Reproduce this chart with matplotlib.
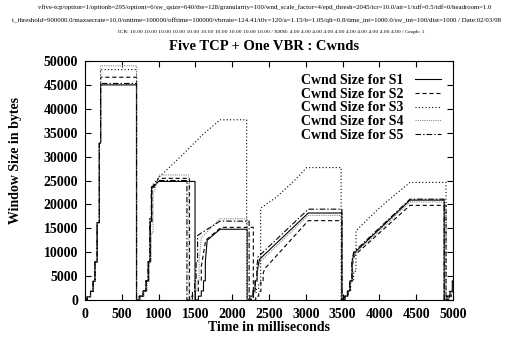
import matplotlib
matplotlib.use("Agg")
import matplotlib.pyplot as plt

plt.rcParams['font.family'] = ['Liberation Serif', 'DejaVu Serif']
plt.rcParams['lines.scale_dashes'] = False

# header lines printed by the simulator
hdr1 = "vfive-tcp/option=1/optionb=295/optiont=6/sw_qsize=640/tbe=128/granularity=100/wnd_scale_factor=4/epd_thresh=2045/icr=10.0/air=1/xdf=0.5/tdf=0/headroom=1.0"
hdr2 = "t_threshold=900000.0/maxsecrate=10.0/ontime=100000/offtime=100000/vbrrate=124.41/t0v=120/a=1.15/b=1.05/qlt=0.8/time_int=1000.0/sw_int=100/dist=1000 / Date:02/03/98"
hdr3 = "ICR: 10.00 10.00 10.00 10.00 10.00 10.00 10.00 10.00 10.00 10.00 / XRM: 4.00 4.00 4.00 4.00 4.00 4.00 4.00 4.00 4.00 4.00 / Graph: 1"
title = "Five TCP + One VBR : Cwnds"

labels = ["Cwnd Size for S1", "Cwnd Size for S2", "Cwnd Size for S3",
          "Cwnd Size for S4", "Cwnd Size for S5"]

# cwnd traces (time ms, bytes)
t_s1 = [0, 30, 30, 75, 75, 110, 110, 135, 135, 165, 165, 195, 195, 212, 212, 700, 700,
        740, 740, 790, 790, 830, 830, 860, 860, 885, 885, 905, 905, 1000, 1495, 1495,
        1540, 1540, 1580, 1580, 1610, 1610, 1635, 1635, 1660, 1834, 2205, 2205,
        2240, 2240, 2280, 2280, 2310, 2310, 2340, 2340, 2370, 3034, 3490, 3490,
        3530, 3530, 3570, 3570, 3600, 3600, 3630, 3630, 3655, 4416, 4880, 4880,
        4920, 4920, 4960, 4960, 4990, 4990, 5000]
w_s1 = [0, 0, 700, 700, 1800, 1800, 3900, 3900, 8000, 8000, 16200, 16200, 32800, 32800, 45000, 45000, 0,
        0, 800, 800, 1900, 1900, 4000, 4000, 8000, 8000, 16500, 16500, 23300, 24800, 24800, 0,
        0, 800, 800, 1900, 1900, 4000, 4000, 8000, 12500, 14800, 14800, 0,
        0, 800, 800, 1900, 1900, 4000, 4000, 6000, 8500, 18200, 18200, 0,
        0, 800, 800, 1900, 1900, 4000, 4000, 8000, 9800, 20900, 20900, 0,
        0, 800, 800, 1800, 1800, 4000, 4000]

t_s2 = [0, 30, 30, 75, 75, 110, 110, 135, 135, 165, 165, 195, 195, 212, 212, 700, 700,
        745, 745, 795, 795, 835, 835, 865, 865, 890, 890, 910, 910, 1000, 1420, 1420,
        1460, 1460, 1500, 1500, 1540, 1540, 1580, 1580, 1640, 1850, 2287, 2287,
        2320, 2320, 2360, 2360, 2390, 2390, 2420, 2420, 2440, 3034, 3490, 3490,
        3535, 3535, 3575, 3575, 3605, 3605, 3635, 3635, 3660, 4416, 4905, 4905,
        4940, 4940, 4975, 4975, 5000]
w_s2 = [0, 0, 700, 700, 1800, 1800, 3900, 3900, 8000, 8000, 16200, 16200, 32800, 32800, 46600, 46600, 0,
        0, 800, 800, 1900, 1900, 4000, 4000, 8000, 8000, 16000, 16000, 22800, 25450, 25450, 0,
        0, 800, 800, 1900, 1900, 4000, 4000, 7000, 12500, 15200, 15200, 0,
        0, 800, 800, 1800, 1800, 3800, 3800, 5500, 6500, 16600, 16600, 0,
        0, 800, 800, 1900, 1900, 4000, 4000, 7500, 9300, 19800, 19800, 0,
        0, 700, 700, 1600, 1600]

t_s3 = [0, 30, 30, 75, 75, 110, 110, 135, 135, 165, 165, 195, 195, 212, 212, 700, 700,
        740, 740, 790, 790, 830, 830, 860, 860, 885, 885, 905, 905, 1000, 1300, 1600, 1834, 2197, 2197,
        2240, 2240, 2290, 2290, 2330, 2330, 2360, 2360, 2387, 2387, 2600, 2880, 3010, 3480, 3480,
        3525, 3525, 3570, 3570, 3610, 3610, 3650, 3650, 3682, 3682, 4010, 4416, 4905, 4905,
        4950, 4950, 5000]
w_s3 = [0, 0, 700, 700, 1800, 1800, 3900, 3900, 8000, 8000, 16200, 16200, 32800, 32800, 48200, 48200, 0,
        0, 800, 800, 1900, 1900, 4000, 4000, 8000, 8000, 16500, 16500, 23800, 25600, 30000, 34600, 37700, 37700, 0,
        0, 700, 700, 1600, 1600, 2400, 2400, 3500, 3500, 19200, 21500, 25500, 27700, 27700, 0,
        0, 800, 800, 1800, 1800, 3900, 3900, 6000, 6000, 14500, 19400, 24600, 24600, 0,
        0, 800, 800]

t_s4 = [0, 30, 30, 75, 75, 110, 110, 135, 135, 165, 165, 195, 195, 212, 212, 700, 700,
        750, 750, 800, 800, 845, 845, 875, 875, 900, 900, 925, 925, 1010, 1410, 1410,
        1450, 1450, 1490, 1490, 1520, 1520, 1550, 1550, 1580, 1834, 2205, 2205,
        2245, 2245, 2285, 2285, 2315, 2315, 2345, 2345, 2380, 3034, 3490, 3490,
        3530, 3530, 3570, 3570, 3600, 3600, 3630, 3630, 3658, 4416, 4895, 4895,
        4935, 4935, 4975, 4975, 5000]
w_s4 = [0, 0, 700, 700, 1800, 1800, 3900, 3900, 8000, 8000, 16200, 16200, 32800, 32800, 49000, 49000, 0,
        0, 800, 800, 1900, 1900, 4000, 4000, 8000, 8000, 14000, 14000, 22000, 26150, 26150, 0,
        0, 800, 800, 1900, 1900, 4000, 4000, 8000, 13000, 17000, 17000, 0,
        0, 800, 800, 1900, 1900, 4000, 4000, 6000, 8000, 17700, 17700, 0,
        0, 800, 800, 1900, 1900, 4000, 4000, 8000, 9500, 20500, 20500, 0,
        0, 800, 800, 1800, 1800]

t_s5 = [0, 30, 30, 75, 75, 110, 110, 135, 135, 165, 165, 195, 195, 212, 212, 700, 700,
        735, 735, 785, 785, 825, 825, 855, 855, 880, 880, 900, 900, 1000, 1385, 1385,
        1420, 1420, 1460, 1460, 1490, 1490, 1510, 1510, 1530, 1530, 1834, 2230, 2230,
        2260, 2260, 2290, 2290, 2315, 2315, 2335, 2335, 2350, 3034, 3490, 3490,
        3525, 3525, 3565, 3565, 3595, 3595, 3625, 3625, 3650, 4416, 4880, 4880,
        4915, 4915, 4955, 4955, 5000]
w_s5 = [0, 0, 700, 700, 1800, 1800, 3900, 3900, 8000, 8000, 16200, 16200, 32800, 32800, 45300, 45300, 0,
        0, 800, 800, 1900, 1900, 4000, 4000, 8000, 8000, 17000, 17000, 23500, 25000, 25000, 0,
        0, 800, 800, 1800, 1800, 4000, 4000, 8000, 8000, 13500, 16500, 16500, 0,
        0, 800, 800, 1900, 1900, 4000, 4000, 7000, 9000, 19000, 19000, 0,
        0, 800, 800, 1900, 1900, 4000, 4000, 8000, 10000, 21100, 21100, 0,
        0, 800, 800, 1900, 1900]

series = [(t_s1, w_s1), (t_s2, w_s2), (t_s3, w_s3), (t_s4, w_s4), (t_s5, w_s5)]
styles = [dict(color="black", ls="-"),
          dict(color="black", dashes=(3, 2)),
          dict(color="black", dashes=(0.8, 1.6)),
          dict(color="#8a8a8a", dashes=(0.8, 0.8)),
          dict(color="black", dashes=(4, 1.5, 1, 1.5))]

xticks = list(range(0, 5001, 500))
yticks = list(range(0, 50001, 5000))

fig = plt.figure(figsize=(5.14, 3.41), dpi=100)
ax = fig.add_axes([85/514, 41/341, 368/514, 239/341])

for (t, w), st, lab in zip(series, styles, labels):
    ax.plot(t, w, lw=0.8, label=lab, **st)

ax.set_xlim(0, 5000)
ax.set_ylim(0, 50000)
ax.set_xticks(xticks)
ax.set_yticks(yticks)
ax.tick_params(direction="in", length=4, width=0.8, top=True, right=True, labelsize=10)
ax.tick_params(axis="x", pad=6)
ax.tick_params(axis="y", pad=5)
for lb in ax.get_xticklabels() + ax.get_yticklabels():
    lb.set_fontweight("bold")
for sp in ax.spines.values():
    sp.set_linewidth(0.8)

ax.set_xlabel("Time in milliseconds", fontsize=10, fontweight="bold", labelpad=0)
fig.text(16/514, 181/341, "Window Size in bytes", rotation=90, fontsize=10,
         fontweight="bold", ha="center", va="center")

leg = ax.legend(loc="upper right", bbox_to_anchor=(441/514, 1 - 74/341),
                bbox_transform=fig.transFigure, frameon=False, markerfirst=False,
                prop=dict(size=10, weight="bold"), handlelength=1.9,
                handletextpad=0.8, labelspacing=0.05, borderpad=0, borderaxespad=0)

fig.text(265/514, 1 - 7/341, hdr1, fontsize=4.85, ha="center", va="center")
fig.text(0.5, 1 - 20/341, hdr2, fontsize=4.95, ha="center", va="center")
fig.text(271/514, 1 - 32/341, hdr3, fontsize=3.95, ha="center", va="center")
fig.text(264/514, 1 - 47/341, title, fontsize=10.5, fontweight="bold", ha="center", va="center")

fig.savefig("out.png", dpi=100)
